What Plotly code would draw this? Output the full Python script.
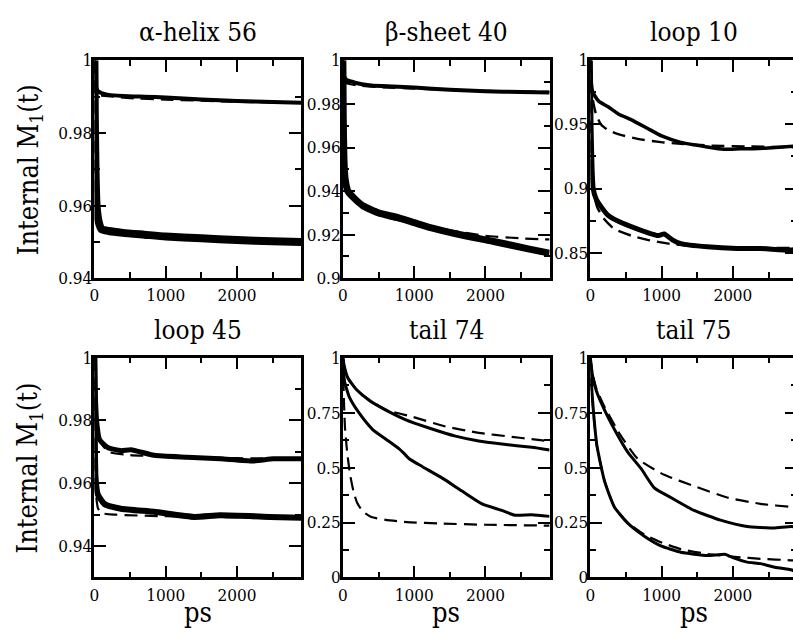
import plotly.graph_objects as go

# ---------------- data ----------------
# panel 1: alpha-helix 56
h56_sim_hi_t = [0, 10, 25, 50, 100, 200, 400, 700, 1000, 1500, 2000, 2500, 2900]
h56_sim_hi = [1.0, 0.995, 0.9925, 0.9915, 0.991, 0.9905, 0.9902, 0.9900, 0.9898, 0.9892, 0.9888, 0.9885, 0.9883]
h56_fit_hi_t = [0, 5, 15, 100, 500, 1000, 2000, 2900]
h56_fit_hi = [1.0, 0.993, 0.9905, 0.9903, 0.9896, 0.9892, 0.9886, 0.9883]
h56_sim_lo_t = [0, 5, 15, 30, 60, 100, 200, 400, 700, 1000, 1500, 2000, 2500, 2900]
h56_sim_lo = [1.0, 0.985, 0.970, 0.960, 0.9555, 0.9535, 0.9530, 0.9525, 0.9520, 0.9515, 0.9510, 0.9505, 0.9502, 0.9500]
h56_fit_lo_t = [0, 5, 10, 20, 40, 70, 100, 300, 1000, 2000, 2900]
h56_fit_lo = [1.0, 0.985, 0.975, 0.963, 0.958, 0.955, 0.9535, 0.9522, 0.9512, 0.9503, 0.9498]

# panel 2: beta-sheet 40
b40_sim_hi_t = [0, 5, 20, 50, 100, 200, 400, 700, 1000, 1500, 2000, 2500, 2900]
b40_sim_hi = [1.0, 0.996, 0.9925, 0.991, 0.9905, 0.9895, 0.9885, 0.9880, 0.9875, 0.9865, 0.9858, 0.9855, 0.9853]
b40_fit_hi_t = [0, 10, 50, 200, 500, 1000, 2000, 2900]
b40_fit_hi = [1.0, 0.992, 0.9895, 0.9885, 0.9877, 0.9870, 0.9860, 0.9855]
b40_sim_lo_t = [0, 5, 15, 30, 70, 150, 280, 500, 750, 1000, 1200, 1700, 2100, 2600, 2900]
b40_sim_lo = [1.0, 0.975, 0.955, 0.946, 0.940, 0.937, 0.9333, 0.930, 0.928, 0.9255, 0.9235, 0.9196, 0.917, 0.9135, 0.9115]
b40_fit_lo_t = [0, 5, 15, 30, 60, 150, 300, 600, 1000, 1500, 2000, 2500, 2900]
b40_fit_lo = [1.0, 0.970, 0.955, 0.946, 0.941, 0.936, 0.932, 0.928, 0.925, 0.922, 0.9195, 0.9183, 0.9178]

# panel 3: loop 10
l10_sim_hi_t = [0, 10, 30, 60, 120, 250, 400, 570, 800, 1000, 1270, 1640, 1870, 2100, 2290, 2600, 2900]
l10_sim_hi = [1.0, 0.985, 0.976, 0.9726, 0.968, 0.9638, 0.958, 0.9538, 0.947, 0.941, 0.936, 0.9324, 0.9306, 0.931, 0.9311, 0.932, 0.9332]
l10_fit_hi_t = [0, 20, 50, 80, 150, 250, 390, 665, 990, 1270, 1700, 2200, 2900]
l10_fit_hi = [1.0, 0.975, 0.965, 0.958, 0.950, 0.9455, 0.9424, 0.9387, 0.9362, 0.9349, 0.9335, 0.9328, 0.9322]
l10_sim_lo_t = [0, 10, 25, 40, 80, 150, 250, 386, 665, 944, 1037, 1150, 1270, 1640, 2060, 2390, 2820, 2900]
l10_sim_lo = [1.0, 0.95, 0.915, 0.900, 0.892, 0.8859, 0.879, 0.8746, 0.8683, 0.8633, 0.8645, 0.860, 0.857, 0.8545, 0.8532, 0.8532, 0.852, 0.853]
l10_fit_lo_t = [0, 10, 25, 50, 100, 200, 340, 572, 800, 1100, 1500, 2000, 2900]
l10_fit_lo = [1.0, 0.95, 0.91, 0.895, 0.885, 0.8758, 0.8683, 0.8633, 0.860, 0.857, 0.855, 0.854, 0.8535]

# panel 4: loop 45
l45_sim_hi_t = [0, 10, 30, 70, 186, 372, 511, 837, 1302, 1766, 2231, 2510, 2900]
l45_sim_hi = [1.0, 0.990, 0.980, 0.974, 0.9714, 0.9704, 0.9707, 0.9689, 0.9683, 0.9678, 0.9671, 0.9678, 0.9678]
l45_fit_hi_t = [0, 10, 30, 70, 200, 500, 1000, 2000, 2900]
l45_fit_hi = [1.0, 0.990, 0.979, 0.9735, 0.970, 0.969, 0.9685, 0.968, 0.9678]
l45_sim_lo_t = [0, 5, 15, 46, 140, 372, 837, 1395, 1766, 2460, 2900]
l45_sim_lo = [1.0, 0.975, 0.962, 0.9565, 0.9534, 0.9519, 0.9509, 0.9493, 0.9498, 0.9493, 0.949]
l45_fit_lo_t = [0, 5, 15, 50, 100, 300, 1000, 2000, 2900]
l45_fit_lo = [1.0, 0.970, 0.958, 0.952, 0.9505, 0.950, 0.9495, 0.9492, 0.949]

# panel 5: tail 74
t74_sim_hi_t = [0, 20, 70, 186, 372, 604, 883, 1208, 1580, 1905, 2231, 2650, 2900]
t74_sim_hi = [1.0, 0.96, 0.9075, 0.856, 0.805, 0.761, 0.717, 0.680, 0.643, 0.621, 0.607, 0.592, 0.580]
t74_fit_hi_t = [0, 20, 70, 186, 372, 604, 976, 1441, 1905, 2370, 2650, 2900]
t74_fit_hi = [1.0, 0.96, 0.91, 0.857, 0.808, 0.763, 0.731, 0.687, 0.658, 0.640, 0.629, 0.620]
t74_sim_lo_t = [0, 23, 93, 232, 418, 604, 790, 850, 930, 1116, 1395, 1673, 1952, 2231, 2417, 2650, 2900]
t74_sim_lo = [1.0, 0.893, 0.819, 0.746, 0.673, 0.629, 0.585, 0.567, 0.540, 0.504, 0.452, 0.393, 0.335, 0.305, 0.283, 0.285, 0.278]
t74_fit_lo_t = [0, 15, 30, 60, 100, 150, 200, 280, 400, 600, 900, 1400, 2000, 2900]
t74_fit_lo = [1.0, 0.80, 0.68, 0.57, 0.47, 0.39, 0.34, 0.30, 0.275, 0.262, 0.252, 0.245, 0.240, 0.236]

# panel 6: tail 75
t75_sim_hi_t = [0, 30, 84, 200, 339, 525, 711, 897, 1130, 1455, 1827, 2200, 2572, 2828, 2900]
t75_sim_hi = [1.0, 0.92, 0.849, 0.761, 0.673, 0.570, 0.496, 0.408, 0.364, 0.305, 0.261, 0.232, 0.225, 0.232, 0.225]
t75_fit_hi_t = [0, 30, 84, 200, 432, 665, 1037, 1455, 1920, 2386, 2828, 2900]
t75_fit_hi = [1.0, 0.93, 0.86, 0.775, 0.643, 0.540, 0.467, 0.416, 0.364, 0.335, 0.320, 0.315]
t75_sim_lo_t = [0, 20, 46, 93, 200, 339, 525, 758, 990, 1270, 1641, 1900, 2000, 2200, 2386, 2572, 2828, 2900]
t75_sim_lo = [1.0, 0.86, 0.746, 0.599, 0.437, 0.320, 0.247, 0.188, 0.144, 0.115, 0.100, 0.105, 0.090, 0.070, 0.063, 0.048, 0.034, 0.020]
t75_fit_lo_t = [0, 20, 46, 93, 200, 339, 525, 758, 990, 1270, 1641, 2060, 2386, 2828, 2900]
t75_fit_lo = [1.0, 0.85, 0.74, 0.595, 0.44, 0.32, 0.25, 0.195, 0.16, 0.129, 0.107, 0.093, 0.085, 0.078, 0.075]

panel_titles = ["\u03b1-helix 56", "\u03b2-sheet 40", "loop 10", "loop 45", "tail 74", "tail 75"]
x_tickvals = [0, 1000, 2000]
x_ticktext = ["0", "1000", "2000"]
x_minor = [500, 1500, 2500]
x_max = 2900

y_ranges = [[0.94, 1.0], [0.9, 1.0], [0.83, 1.0], [0.93, 1.0], [0.0, 1.0], [0.0, 1.0]]
y_tickvals = [[0.94, 0.96, 0.98, 1.0], [0.9, 0.92, 0.94, 0.96, 0.98, 1.0], [0.85, 0.9, 0.95, 1.0],
              [0.94, 0.96, 0.98, 1.0], [0.0, 0.25, 0.5, 0.75, 1.0], [0.0, 0.25, 0.5, 0.75, 1.0]]
y_ticktext = [["0.94", "0.96", "0.98", "1"], ["0.9", "0.92", "0.94", "0.96", "0.98", "1"], ["0.85", "0.9", "0.95", "1"],
              ["0.94", "0.96", "0.98", "1"], ["0", "0.25", "0.5", "0.75", "1"], ["0", "0.25", "0.5", "0.75", "1"]]
y_minor = [[0.95, 0.97, 0.99], [0.91, 0.93, 0.95, 0.97, 0.99], [0.875, 0.925, 0.975],
           [0.95, 0.97, 0.99], [0.125, 0.375, 0.625, 0.875], [0.125, 0.375, 0.625, 0.875]]

# (t, values, dashed?, width) per panel
series = [
    [(h56_sim_hi_t, h56_sim_hi, False, 4), (h56_fit_hi_t, h56_fit_hi, True, 2.2),
     (h56_sim_lo_t, h56_sim_lo, False, 8), (h56_fit_lo_t, h56_fit_lo, True, 2.2)],
    [(b40_sim_hi_t, b40_sim_hi, False, 4), (b40_fit_hi_t, b40_fit_hi, True, 2.2),
     (b40_sim_lo_t, b40_sim_lo, False, 7), (b40_fit_lo_t, b40_fit_lo, True, 2.2)],
    [(l10_fit_hi_t, l10_fit_hi, True, 2.4), (l10_sim_hi_t, l10_sim_hi, False, 3.5),
     (l10_fit_lo_t, l10_fit_lo, True, 2.4), (l10_sim_lo_t, l10_sim_lo, False, 5)],
    [(l45_sim_hi_t, l45_sim_hi, False, 5), (l45_fit_hi_t, l45_fit_hi, True, 2.2),
     (l45_sim_lo_t, l45_sim_lo, False, 6), (l45_fit_lo_t, l45_fit_lo, True, 2.2)],
    [(t74_sim_hi_t, t74_sim_hi, False, 3), (t74_fit_hi_t, t74_fit_hi, True, 2.2),
     (t74_sim_lo_t, t74_sim_lo, False, 3), (t74_fit_lo_t, t74_fit_lo, True, 2.2)],
    [(t75_sim_hi_t, t75_sim_hi, False, 3), (t75_fit_hi_t, t75_fit_hi, True, 2.2),
     (t75_sim_lo_t, t75_sim_lo, False, 3), (t75_fit_lo_t, t75_fit_lo, True, 2.2)],
]

# ---------------- layout geometry ----------------
W, H = 800, 633
cols = [(90, 298), (340, 548), (589, 797)]
rows = [(52, 277), (359, 586)]
FONT = "DejaVu Serif Condensed"


def fx(x):
    return x / W


def fy(y):
    return 1 - y / H


fig = go.Figure()
layout = dict(
    width=W, height=H, margin=dict(l=0, r=0, t=0, b=0),
    paper_bgcolor="white", plot_bgcolor="white", showlegend=False,
    font=dict(family=FONT, color="black"),
)
annotations = []

for i in range(6):
    r, c = divmod(i, 3)
    xa = "xaxis" if i == 0 else f"xaxis{i + 1}"
    ya = "yaxis" if i == 0 else f"yaxis{i + 1}"
    xref = "x" if i == 0 else f"x{i + 1}"
    yref = "y" if i == 0 else f"y{i + 1}"
    axis_common = dict(
        showline=True, linewidth=2.5, linecolor="black", mirror="ticks",
        ticks="inside", ticklen=12, tickwidth=1.5, tickcolor="black",
        showgrid=False, zeroline=False,
        tickfont=dict(family=FONT, size=17, color="black"),
    )
    layout[xa] = dict(
        axis_common, domain=[fx(cols[c][0]), fx(cols[c][1])], anchor=yref,
        range=[0, x_max], tickmode="array", tickvals=x_tickvals, ticktext=x_ticktext,
        minor=dict(ticks="inside", ticklen=6, tickwidth=1.5, tickcolor="black", tickvals=x_minor),
    )
    layout[ya] = dict(
        axis_common, domain=[fy(rows[r][1]), fy(rows[r][0])], anchor=xref,
        range=y_ranges[i], tickmode="array", tickvals=y_tickvals[i], ticktext=y_ticktext[i],
        ticklabelstandoff=-4,
        minor=dict(ticks="inside", ticklen=6, tickwidth=1.5, tickcolor="black", tickvals=y_minor[i]),
    )
    for (t, v, dashed, w) in series[i]:
        fig.add_trace(go.Scatter(
            x=t, y=v, mode="lines", xaxis=xref, yaxis=yref,
            line=dict(color="black", width=w, dash="13px,7px" if dashed else "solid",
                      shape="spline", smoothing=0.5),
            hoverinfo="skip",
        ))
    cx = (cols[c][0] + cols[c][1]) / 2
    annotations.append(dict(
        text=panel_titles[i], x=fx(cx), y=fy(rows[r][0] - 29), xref="paper", yref="paper",
        xanchor="center", yanchor="middle", showarrow=False,
        font=dict(family=FONT, size=26, color="black"),
    ))
    if r == 1:
        annotations.append(dict(
            text="ps", x=fx(cx), y=fy(622), xref="paper", yref="paper",
            xanchor="center", yanchor="middle", showarrow=False,
            font=dict(family=FONT, size=27, color="black"),
        ))

for r in range(2):
    annotations.append(dict(
        text="Internal M<sub>1</sub>(t)", x=fx(25), y=fy((rows[r][0] + rows[r][1]) / 2),
        xref="paper", yref="paper", xanchor="center", yanchor="middle",
        textangle=-90, showarrow=False,
        font=dict(family=FONT, size=27, color="black"),
    ))

layout["annotations"] = annotations
fig.update_layout(layout)
fig.write_html("out.html",
               post_script="document.body.style.margin='0';document.body.style.overflow='hidden';")
